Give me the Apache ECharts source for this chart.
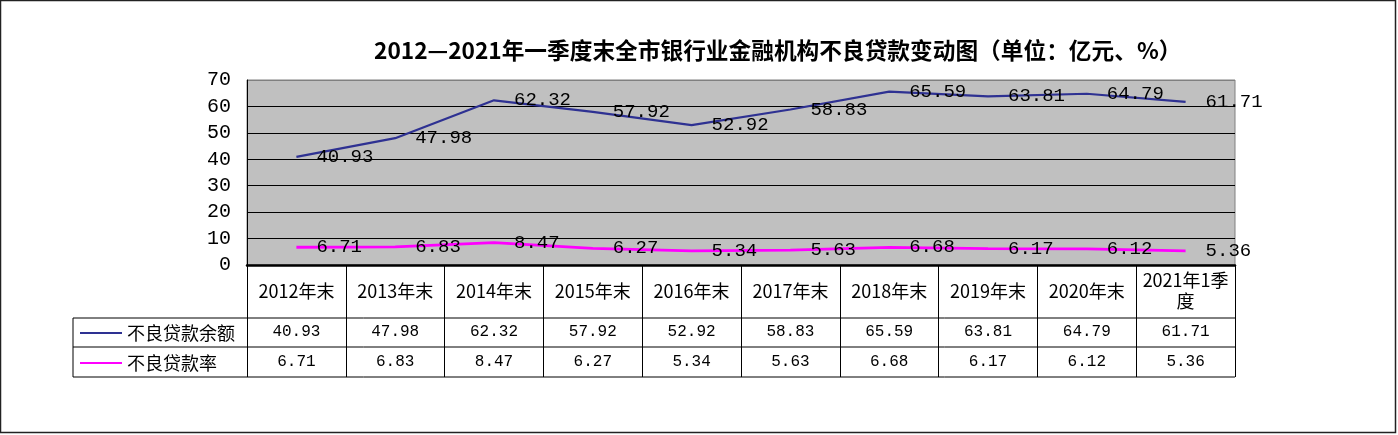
<!DOCTYPE html>
<html>
<head>
<meta charset="utf-8">
<script src="https://cdn.jsdelivr.net/npm/echarts@6/dist/echarts.min.js"></script>
<style>
html,body{margin:0;padding:0;background:#fff;}
#c{width:1398px;height:435px;}
</style>
</head>
<body>
<div id="c"></div>
<script>
const categories = ['2012年末','2013年末','2014年末','2015年末','2016年末','2017年末','2018年末','2019年末','2020年末','2021年1季度'];
const balance = [40.93, 47.98, 62.32, 57.92, 52.92, 58.83, 65.59, 63.81, 64.79, 61.71];
const ratio = [6.71, 6.83, 8.47, 6.27, 5.34, 5.63, 6.68, 6.17, 6.12, 5.36];
const seriesNames = ['不良贷款余额', '不良贷款率'];
const titleText = '2012—2021年一季度末全市银行业金融机构不良贷款变动图（单位：亿元、%）';

const W = 1398, H = 435;
const plotL = 247, plotR = 1235, plotT = 80, plotB = 265;
const row1B = 318, row2B = 347, row3B = 377, legendL = 73;

const CJK = '"Noto Sans CJK SC", sans-serif';
const MONO = '"Liberation Mono", "DejaVu Sans Mono", monospace';

const chart = echarts.init(document.getElementById('c'));

function fmt(v){ return v.toFixed(2); }

const tableLines = [row1B, row2B, row3B].map(y => ({
  type: 'line',
  shape: {x1: legendL, y1: y, x2: plotR, y2: y},
  style: {stroke: '#000', lineWidth: 1},
  z: 10
}));

const labelStyle = {show: true, position: 'right', distance: 20, fontFamily: MONO, fontSize: 19, color: '#000',
  formatter: p => fmt(p.value)};

chart.setOption({
  animation: false,
  backgroundColor: '#fff',
  title: {
    text: titleText,
    left: 369, top: 34,
    textStyle: {fontFamily: CJK, fontSize: 22.7, fontWeight: 'bold', color: '#000'}
  },
  legend: {
    data: [
      {name: seriesNames[0], icon: 'rect', itemStyle: {color: '#2E3192'}},
      {name: seriesNames[1], icon: 'rect', itemStyle: {color: '#FF00FF'}}
    ],
    orient: 'vertical',
    left: 75, top: 318,
    itemWidth: 42, itemHeight: 2, itemGap: 10,
    textStyle: {fontFamily: CJK, fontSize: 18, lineHeight: 20, color: '#000'}
  },
  grid: {
    left: plotL, top: plotT, width: plotR - plotL, height: plotB - plotT,
    show: true, backgroundColor: '#C0C0C0', borderColor: '#808080', borderWidth: 1
  },
  xAxis: [
    {
      type: 'category', data: categories, boundaryGap: true, position: 'bottom',
      axisLine: {show: true, lineStyle: {color: '#000', width: 2.5}},
      axisTick: {show: true, inside: false, length: row3B - plotB, interval: 0, lineStyle: {color: '#000', width: 1}},
      axisLabel: {
        interval: 0, margin: 26, verticalAlign: 'middle', lineHeight: 21,
        fontFamily: CJK, fontSize: 18, color: '#000',
        formatter: v => v.length > 7 ? v.slice(0, 7) + '\n' + v.slice(7) : v
      },
      splitLine: {show: false}
    },
    {
      type: 'category', data: categories, boundaryGap: true, position: 'bottom', offset: 67,
      axisLine: {show: false}, axisTick: {show: false},
      axisLabel: {interval: 0, margin: 0, verticalAlign: 'middle', fontFamily: MONO, fontSize: 16, color: '#000',
        formatter: (v, i) => fmt(balance[i])}
    },
    {
      type: 'category', data: categories, boundaryGap: true, position: 'bottom', offset: 97,
      axisLine: {show: false}, axisTick: {show: false},
      axisLabel: {interval: 0, margin: 0, verticalAlign: 'middle', fontFamily: MONO, fontSize: 16, color: '#000',
        formatter: (v, i) => fmt(ratio[i])}
    }
  ],
  yAxis: {
    type: 'value', min: 0, max: 70, interval: 10,
    axisLine: {show: true, lineStyle: {color: '#000', width: 1}},
    axisTick: {show: false},
    axisLabel: {margin: 16, fontFamily: MONO, fontSize: 20, color: '#000'},
    splitLine: {show: true, lineStyle: {color: ['#000','#000','#000','#000','#000','#000','#000','#808080'], width: 1.2}}
  },
  series: [
    {
      name: seriesNames[0], type: 'line', data: balance, xAxisIndex: 0,
      symbol: 'circle', symbolSize: 0.01, showSymbol: true,
      lineStyle: {color: '#2E3192', width: 2.2}, itemStyle: {color: '#2E3192'},
      label: labelStyle, z: 5
    },
    {
      name: seriesNames[1], type: 'line', data: ratio, xAxisIndex: 0,
      symbol: 'circle', symbolSize: 0.01, showSymbol: true,
      lineStyle: {color: '#FF00FF', width: 2.8}, itemStyle: {color: '#FF00FF'},
      label: labelStyle, z: 5
    }
  ],
  graphic: [
    {type: 'rect', shape: {x: 0.5, y: 0.5, width: W - 3, height: H - 3},
      style: {fill: 'none', stroke: '#222', lineWidth: 1.5}, z: 10},
    {type: 'line', shape: {x1: legendL, y1: row1B, x2: legendL, y2: row3B},
      style: {stroke: '#000', lineWidth: 1}, z: 10}
  ].concat(tableLines)
});
</script>
</body>
</html>
